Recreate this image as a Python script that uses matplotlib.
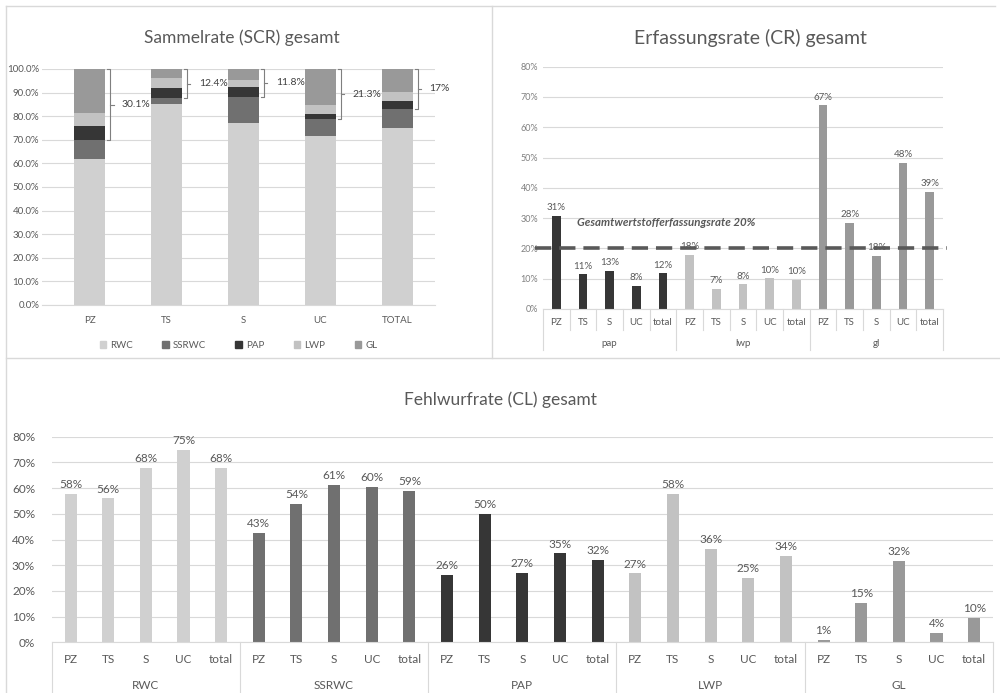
import matplotlib
matplotlib.use("Agg")
import matplotlib.pyplot as plt
from matplotlib.lines import Line2D
from matplotlib.patches import Patch

plt.rcParams['font.family'] = ['Lato', 'DejaVu Sans']

# ---------------- data ----------------
scr_cats = ['PZ', 'TS', 'S', 'UC', 'TOTAL']
scr_rwc = [61.9, 85.0, 77.3, 71.8, 75.0]
scr_ssrwc = [8.0, 2.6, 10.9, 6.9, 8.2]
scr_pap = [5.8, 4.3, 4.0, 2.1, 3.4]
scr_lwp = [5.8, 4.4, 3.1, 4.1, 3.7]
scr_gl = [18.5, 3.7, 4.7, 15.1, 9.7]
scr_bracket_labels = ['30.1%', '12.4%', '11.8%', '21.3%', '17%']
scr_series = ['RWC', 'SSRWC', 'PAP', 'LWP', 'GL']

cr_groups = ['pap', 'lwp', 'gl']
cr_sub = ['PZ', 'TS', 'S', 'UC', 'total']
cr_pap = [30.7, 11.4, 12.6, 7.6, 11.8]
cr_lwp = [17.8, 6.6, 8.2, 10.1, 9.6]
cr_gl = [67.2, 28.4, 17.6, 48.2, 38.7]
cr_target = 20
cr_target_label = 'Gesamtwertstofferfassungsrate 20%'

cl_groups = ['RWC', 'SSRWC', 'PAP', 'LWP', 'GL']
cl_sub = ['PZ', 'TS', 'S', 'UC', 'total']
cl_rwc = [57.7, 56.0, 67.9, 74.9, 67.7]
cl_ssrwc = [42.7, 53.7, 61.1, 60.3, 59.0]
cl_pap = [26.2, 49.8, 27.1, 34.6, 32.0]
cl_lwp = [26.8, 57.7, 36.4, 25.0, 33.7]
cl_gl = [0.8, 15.3, 31.8, 3.5, 9.6]

# ---------------- style ----------------
C_RWC = '#d0d0d0'
C_SSRWC = '#707070'
C_PAP = '#363636'
C_LWP = '#c2c2c2'
C_GL = '#999999'
TXT = '#595959'
GRID = '#d9d9d9'

W, H = 1000, 693
fig = plt.figure(figsize=(W / 100, H / 100), dpi=100)


def ax_px(l, t, r, b):
    return fig.add_axes([l / W, 1 - b / H, (r - l) / W, (b - t) / H])


def fig_line(x0, y0, x1, y1):
    fig.add_artist(Line2D([x0 / W, x1 / W], [1 - y0 / H, 1 - y1 / H],
                          color=GRID, lw=1.0, transform=fig.transFigure))


# panel borders
fig_line(6, 6, 6, 693)
fig_line(6, 6, 995, 6)
fig_line(492, 6, 492, 358)
fig_line(6, 358, 1000, 358)


def base_style(ax):
    for s in ['top', 'right', 'left']:
        ax.spines[s].set_visible(False)
    ax.spines['bottom'].set_color(GRID)
    ax.grid(axis='y', color=GRID, lw=0.8)
    ax.set_axisbelow(True)
    ax.tick_params(axis='both', length=0, colors=TXT)


# ---------------- panel 1: SCR stacked ----------------
ax1 = ax_px(42, 69, 435, 305)
base_style(ax1)
x = list(range(len(scr_cats)))
bottom = [0] * len(x)
cols = [C_RWC, C_SSRWC, C_PAP, C_LWP, C_GL]
for vals, c, name in zip([scr_rwc, scr_ssrwc, scr_pap, scr_lwp, scr_gl], cols, scr_series):
    ax1.bar(x, vals, 0.4, bottom=bottom, color=c, label=name, zorder=2)
    bottom = [b + v for b, v in zip(bottom, vals)]
ax1.set_ylim(0, 100)
ax1.set_xlim(-0.62, 4.49)
ax1.set_yticks(range(0, 101, 10))
ax1.set_yticklabels([f'{v:.1f}%' for v in range(0, 101, 10)], fontsize=7)
ax1.tick_params(axis='y', pad=2)
ax1.set_xticks([])
for i, c in enumerate(scr_cats):
    ax1.text(i, -0.064, c, transform=ax1.get_xaxis_transform(), ha='center',
             va='center', fontsize=7, color=TXT)
for i in x:
    lo = scr_rwc[i] + scr_ssrwc[i]
    hi = 100
    bx = i + 0.27
    ax1.plot([bx - 0.04, bx, bx, bx - 0.04], [hi, hi, lo, lo], color='#7f7f7f', lw=0.8, zorder=3,
             clip_on=False)
    mid = (lo + hi) / 2
    ax1.plot([bx, bx + 0.04], [mid, mid], color='#7f7f7f', lw=0.8, zorder=3, clip_on=False)
    ax1.text(i + 0.42, mid, scr_bracket_labels[i], ha='left', va='center', fontsize=7.5,
             color='#404040', zorder=4)
handles = [Patch(color=c) for c in cols]
ax1.legend(handles, scr_series, loc='center', bbox_to_anchor=(0.5, -0.17), ncol=5,
           frameon=False, fontsize=7, handlelength=0.7, handleheight=0.7,
           columnspacing=3.0, handletextpad=0.4, labelcolor=TXT)
fig.text(242 / W, 1 - 38 / H, 'Sammelrate (SCR) gesamt', ha='center', va='center',
         fontsize=12.5, color=TXT)

# ---------------- panel 2: CR ----------------
ax2 = ax_px(543, 66.7, 943, 309)
base_style(ax2)
n_sub = len(cr_sub)
cr_vals = [cr_pap, cr_lwp, cr_gl]
cr_cols = [C_PAP, C_LWP, C_GL]
for g, (vals, c) in enumerate(zip(cr_vals, cr_cols)):
    xs = [g * n_sub + k for k in range(n_sub)]
    ax2.bar(xs, vals, 0.32, color=c, zorder=2)
    for xi, v in zip(xs, vals):
        ax2.text(xi, v + 1.2, f'{v:.0f}%', ha='center', va='bottom', fontsize=7, color=TXT,
                 zorder=4)
    for k, s in enumerate(cr_sub):
        ax2.text(g * n_sub + k, -0.057, s, transform=ax2.get_xaxis_transform(),
                 ha='center', va='center', fontsize=7, color=TXT)
    ax2.text(g * n_sub + (n_sub - 1) / 2, -0.142, cr_groups[g],
             transform=ax2.get_xaxis_transform(), ha='center', va='center',
             fontsize=7, color=TXT)
ntot = n_sub * len(cr_groups)
ax2.set_xlim(-0.5, ntot - 0.5)
ax2.set_ylim(0, 80)
ax2.set_yticks(range(0, 81, 10))
ax2.set_yticklabels([f'{v}%' for v in range(0, 81, 10)], fontsize=6.5, color='#808080')
ax2.set_xticks([])
xt = ax2.get_xaxis_transform()
for j in range(ntot + 1):
    xb = j - 0.5
    low = -0.169 if j % n_sub == 0 else -0.087
    ax2.plot([xb, xb], [0, low], color=GRID, lw=0.8, transform=xt, clip_on=False)
ax2.plot([-0.8, ntot - 0.35], [cr_target, cr_target], color='#595959', lw=2.6,
         dashes=(4.5, 2.2), zorder=3, clip_on=False)
ax2.text(0.77, 28.5, cr_target_label, ha='left', va='center', fontsize=8.3,
         fontweight='bold', fontstyle='italic', color=TXT, zorder=4)
fig.text(750 / W, 1 - 38 / H, 'Erfassungsrate (CR) gesamt', ha='center', va='center',
         fontsize=14, color=TXT)

# ---------------- panel 3: CL ----------------
ax3 = ax_px(51.7, 436.7, 993, 642.3)
base_style(ax3)
cl_vals = [cl_rwc, cl_ssrwc, cl_pap, cl_lwp, cl_gl]
cl_cols = [C_RWC, C_SSRWC, C_PAP, C_LWP, C_GL]
n3 = len(cl_sub)
for g, (vals, c) in enumerate(zip(cl_vals, cl_cols)):
    xs = [g * n3 + k for k in range(n3)]
    ax3.bar(xs, vals, 0.32, color=c, zorder=2)
    for xi, v in zip(xs, vals):
        ax3.text(xi, v + 1.5, f'{v:.0f}%', ha='center', va='bottom', fontsize=8.5,
                 color=TXT, zorder=4)
    for k, s in enumerate(cl_sub):
        ax3.text(g * n3 + k, -0.086, s, transform=ax3.get_xaxis_transform(),
                 ha='center', va='center', fontsize=8.5, color=TXT)
    ax3.text(g * n3 + (n3 - 1) / 2, -0.208, cl_groups[g],
             transform=ax3.get_xaxis_transform(), ha='center', va='center',
             fontsize=8.5, color=TXT)
ntot3 = n3 * len(cl_groups)
ax3.set_xlim(-0.5, ntot3 - 0.5)
ax3.set_ylim(0, 80)
ax3.set_yticks(range(0, 81, 10))
ax3.set_yticklabels([f'{v}%' for v in range(0, 81, 10)], fontsize=8.5, color=TXT)
ax3.tick_params(axis='y', pad=12)
ax3.set_xticks([])
xt3 = ax3.get_xaxis_transform()
for j in range(0, ntot3 + 1, n3):
    xb = j - 0.5
    ax3.plot([xb, xb], [0, -0.26], color=GRID, lw=0.8, transform=xt3, clip_on=False)
fig.text(500 / W, 1 - 400 / H, 'Fehlwurfrate (CL) gesamt', ha='center', va='center',
         fontsize=12.5, color=TXT)

fig.savefig('out.png', dpi=100, facecolor='white')
